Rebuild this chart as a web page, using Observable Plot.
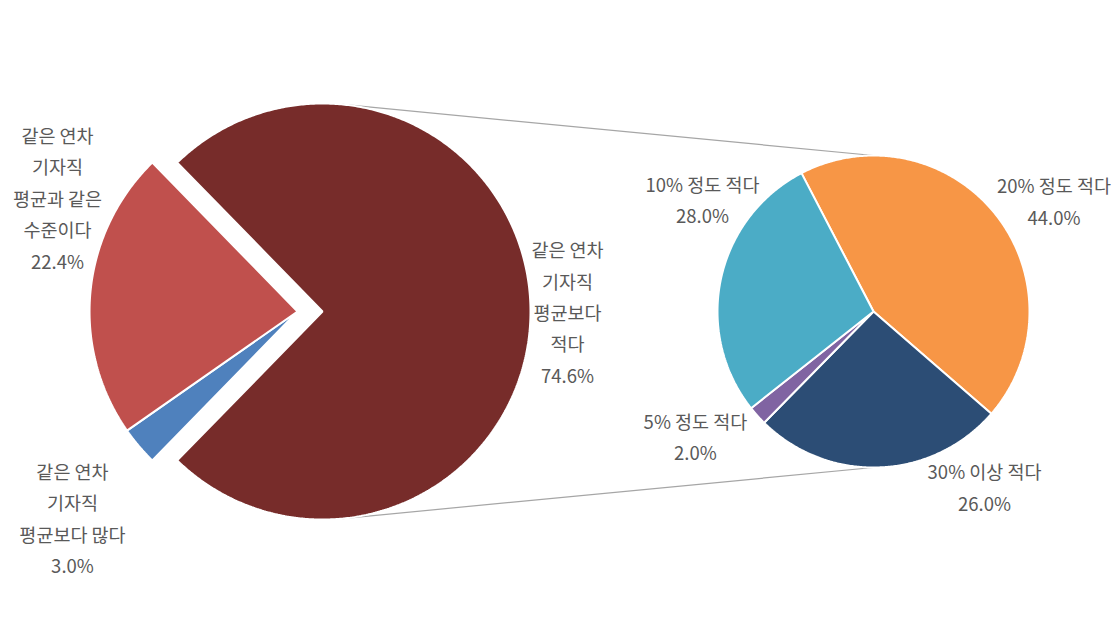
<!DOCTYPE html>
<html>
<head>
<meta charset="utf-8">
<script src="https://cdn.jsdelivr.net/npm/d3@7"></script>
<script src="https://cdn.jsdelivr.net/npm/@observablehq/plot@0.6"></script>
<style>
  html, body { margin: 0; padding: 0; background: #ffffff; }
  #chart svg { display: block; }
</style>
</head>
<body>
<div id="chart"></div>
<script>
// ---- data ----
const leftCategories = ["같은 연차\n기자직\n평균보다\n적다", "같은 연차\n기자직\n평균보다 많다", "같은 연차\n기자직\n평균과 같은\n수준이다"];
const leftValues = [74.6, 3.0, 22.4];
const leftColors = ["#772C2A", "#4F81BD", "#C0504D"];

const rightCategories = ["20% 정도 적다", "30% 이상 적다", "5% 정도 적다", "10% 정도 적다"];
const rightValues = [44.0, 26.0, 2.0, 28.0];
const rightColors = ["#F79646", "#2C4D75", "#8064A2", "#4BACC6"];

// ---- layout (in units of the left pie radius) ----
const W = 1120, H = 623;
const unit = 208;                 // px per unit
const cx0 = 322, cy0 = 311;        // pixel position of left pie centre
const leftCenter = [0, 0];
const leftR = 1;
const explode = [-0.12, 0];        // offset of the two small slices
const rightCenter = [(873 - cx0) / unit, 0];
const rightR = 0.75;
const leftStart = 90 - (leftValues[0] / 100 * 360) / 2; // big slice centred on the right
const rightStart = -27.5;

// label anchors (offsets from each pie centre, in units)
const leftLabelPos = [[1.178, -0.007], [-1.202, -0.998], [-1.274, 0.543]];
const rightLabelPos = [[0.868, 0.526], [0.534, -0.849], [-0.856, -0.606], [-0.822, 0.534]];

const rad = Math.PI / 180;

function slices(values, startDeg) {
  return d3.pie().sort(null).value(d => d)
    .startAngle(startDeg * rad).endAngle((startDeg + 360) * rad)(values);
}

function polygon(key, color, c, r, a0, a1) {
  const pts = [{key, color, x: c[0], y: c[1]}];
  const n = Math.max(2, Math.ceil((a1 - a0) / rad * 2));
  for (let i = 0; i <= n; ++i) {
    const a = a0 + (a1 - a0) * i / n;
    pts.push({key, color, x: c[0] + r * Math.sin(a), y: c[1] + r * Math.cos(a)});
  }
  return pts;
}

const leftArcs = slices(leftValues, leftStart);
const rightArcs = slices(rightValues, rightStart);

let pieVerts = [];
leftArcs.forEach((s, i) => {
  const c = i === 0 ? leftCenter : [leftCenter[0] + explode[0], leftCenter[1] + explode[1]];
  pieVerts = pieVerts.concat(polygon("L" + i, leftColors[i], c, leftR, s.startAngle, s.endAngle));
});
rightArcs.forEach((s, i) => {
  pieVerts = pieVerts.concat(polygon("R" + i, rightColors[i], rightCenter, rightR, s.startAngle, s.endAngle));
});

// connector lines: tangent from left pie to top / bottom of right pie
function tangent(P, upper) {
  const d = Math.hypot(P[0] - leftCenter[0], P[1] - leftCenter[1]);
  const phi = Math.atan2(P[0] - leftCenter[0], P[1] - leftCenter[1]);
  const a = phi + (upper ? -1 : 1) * Math.acos(leftR / d);
  return [leftCenter[0] + leftR * Math.sin(a), leftCenter[1] + leftR * Math.cos(a)];
}
const topP = [rightCenter[0], rightCenter[1] + rightR];
const botP = [rightCenter[0], rightCenter[1] - rightR];
const t1 = tangent(topP, true), t2 = tangent(botP, false);
const connectors = [
  {x1: t1[0], y1: t1[1], x2: topP[0], y2: topP[1]},
  {x1: t2[0], y1: t2[1], x2: botP[0], y2: botP[1]}
];

const labels = [];
leftCategories.forEach((c, i) => labels.push({
  x: leftCenter[0] + leftLabelPos[i][0], y: leftCenter[1] + leftLabelPos[i][1],
  text: c + "\n" + leftValues[i].toFixed(1) + "%"
}));
rightCategories.forEach((c, i) => labels.push({
  x: rightCenter[0] + rightLabelPos[i][0], y: rightCenter[1] + rightLabelPos[i][1],
  text: c + "\n" + rightValues[i].toFixed(1) + "%"
}));

const chart = Plot.plot({
  width: W,
  height: H,
  margin: 0,
  x: {domain: [-cx0 / unit, (W - cx0) / unit], range: [0, W], axis: null},
  y: {domain: [-(H - cy0) / unit, cy0 / unit], range: [H, 0], axis: null},
  color: {type: "identity"},
  style: {background: "#ffffff", fontFamily: "'Noto Sans CJK KR', 'Noto Sans', sans-serif"},
  marks: [
    Plot.link(connectors, {x1: "x1", y1: "y1", x2: "x2", y2: "y2", stroke: "#A6A6A6", strokeWidth: 1.2}),
    Plot.line(pieVerts, {x: "x", y: "y", z: "key", fill: "color", stroke: "#ffffff", strokeWidth: 2, strokeLinejoin: "miter", curve: "linear-closed"}),
    Plot.text(labels, {x: "x", y: "y", dy: -3, text: "text", fill: "#595959", fontSize: 18.5, lineHeight: 1.7, textAnchor: "middle", fontFamily: "'Noto Sans CJK KR', sans-serif"})
  ]
});
document.getElementById("chart").appendChild(chart);
</script>
</body>
</html>
